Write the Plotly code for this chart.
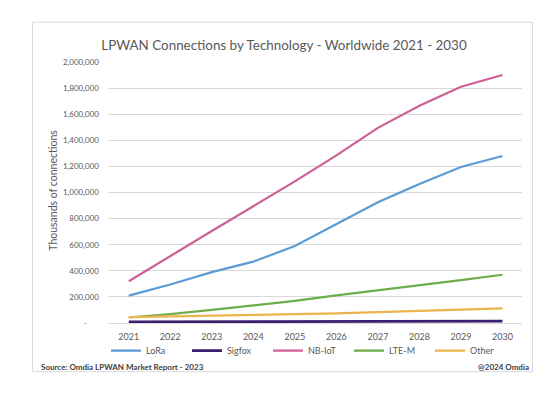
import plotly.graph_objects as go

years = [2021, 2022, 2023, 2024, 2025, 2026, 2027, 2028, 2029, 2030]
lora = [210000, 295000, 390000, 470000, 590000, 755000, 925000, 1065000, 1195000, 1280000]
sigfox = [8000, 9000, 10000, 10000, 11000, 12000, 13000, 14000, 15000, 15000]
nbiot = [320000, 515000, 705000, 895000, 1085000, 1285000, 1495000, 1665000, 1810000, 1900000]
ltem = [42000, 68000, 100000, 133000, 170000, 212000, 250000, 285000, 328000, 370000]
other = [45000, 50000, 55000, 60000, 66000, 73000, 83000, 93000, 104000, 112000]

series = [
    ("LoRa", lora, "#5B9BD5", 2.2),
    ("Sigfox", sigfox, "#3C1E6E", 2.8),
    ("NB-IoT", nbiot, "#CF5E98", 2.2),
    ("LTE-M", ltem, "#6DAE4A", 2.2),
    ("Other", other, "#EAB54C", 2.2),
]

ytickvals = [0, 200000, 400000, 600000, 800000, 1000000, 1200000, 1400000, 1600000, 1800000, 2000000]
yticktext = ["-      "] + [f"{v:,}" for v in ytickvals[1:]]

FONT = "Lato"
OFF = 8  # page body margin
FW, FH = 560 - OFF, 397 - OFF
L, R, T, B = 108, 522, 62.3, 323.3  # plot area in window pixels
W, H = R - L, B - T

def px(x):
    return (x - L) / W

def py(y):
    return (B - y) / H

fig = go.Figure()
for name, vals, color, w in series:
    fig.add_trace(go.Scatter(x=years, y=vals, mode="lines", name=name,
                             line=dict(color=color, width=w)))

fig.update_layout(
    width=FW, height=FH,
    margin=dict(l=L - OFF, r=560 - R, t=T - OFF, b=397 - B, autoexpand=False),
    paper_bgcolor="white", plot_bgcolor="white",
    font=dict(family=FONT, color="#595959", size=9),
    title=dict(text="LPWAN Connections by Technology - Worldwide 2021 - 2030",
               x=(284 - OFF) / FW, xanchor="center", y=1 - (45 - OFF) / FH, yanchor="middle",
               font=dict(family=FONT, size=13.4, color="#595959")),
    showlegend=True,
    legend=dict(orientation="h", x=px(106), xanchor="left", y=py(351), yanchor="middle",
                font=dict(family=FONT, size=9, color="#595959"),
                entrywidth=36, itemwidth=30, tracegroupgap=0, bgcolor="rgba(0,0,0,0)"),
    xaxis=dict(range=[2020.5, 2030.47], tickvals=years, ticktext=[str(y) for y in years],
               showgrid=False, zeroline=False, showline=True, linecolor="#D9D9D9",
               ticks="", automargin=False, ticklabelstandoff=5,
               tickfont=dict(size=9, color="#595959")),
    yaxis=dict(range=[0, 2000000], tickvals=ytickvals, ticktext=yticktext,
               showgrid=True, gridcolor="#D9D9D9", gridwidth=1, zeroline=False,
               ticks="", automargin=False, ticklabelstandoff=8,
               tickfont=dict(size=8, color="#595959")),
    shapes=[dict(type="rect", xref="paper", yref="paper",
                 x0=px(32.5), x1=px(532.5), y0=py(372), y1=py(22.5),
                 line=dict(color="#D9D9D9", width=1), fillcolor="rgba(0,0,0,0)", layer="below")],
    annotations=[
        dict(text="Thousands of connections", xref="paper", yref="paper",
             x=px(53), y=py(191), xanchor="center", yanchor="middle",
             textangle=-90, showarrow=False, font=dict(family=FONT, size=10.5, color="#595959")),
        dict(text="<b>Source: Omdia LPWAN Market Report - 2023</b>", xref="paper", yref="paper",
             x=px(39), y=py(367.5), xanchor="left", yanchor="middle",
             showarrow=False, font=dict(family=FONT, size=8, color="#404040")),
        dict(text="<b>@2024 Omdia</b>", xref="paper", yref="paper",
             x=px(531), y=py(367.5), xanchor="right", yanchor="middle",
             showarrow=False, font=dict(family=FONT, size=8, color="#404040")),
    ],
)

fig.write_html("out.html")
